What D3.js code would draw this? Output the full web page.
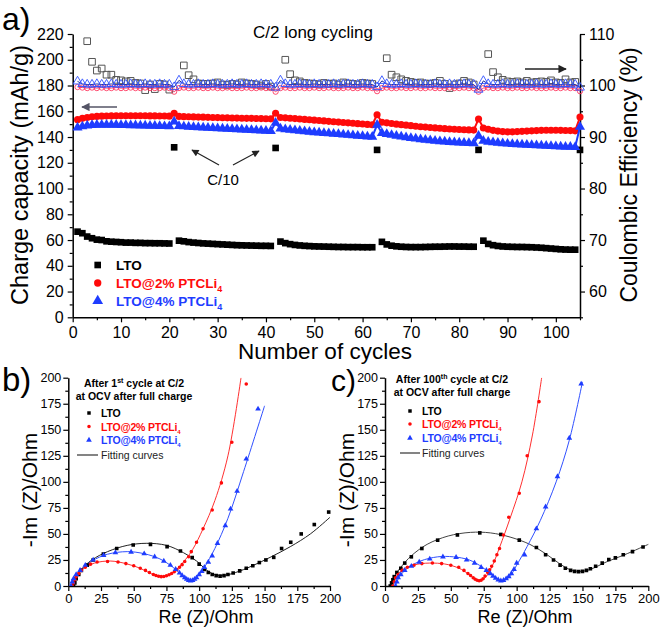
<!DOCTYPE html>
<html><head><meta charset="utf-8">
<script src="https://cdn.jsdelivr.net/npm/d3@7/dist/d3.min.js"></script>
<style>
body{margin:0;background:#fff}
svg{font-family:"Liberation Sans",Arial,sans-serif}
.ax .domain{stroke:#000;stroke-width:1.5}
.ax line{stroke:#000;stroke-width:1.2}
.ax text{fill:#000}
</style>
</head><body><svg id="c" width="660" height="627"></svg>
<script>
// ---------- Panel a data ----------
const cycles = d3.range(1, 106);
const capLTO = [66.5,65.3,62.7,61.4,60.3,60,59,58.7,58.5,58.3,58,58,57.8,57.8,57.6,57.6,57.5,57.5,57.4,57.3,
 132,
 59.5,59,58.4,58,57.7,57.4,57.2,57,56.8,56.6,56.4,56.2,56,55.9,55.8,55.7,55.6,55.5,55.5,55.4,
 131.5,
 58.8,57.6,56.8,56.2,55.8,55.5,55.3,55.1,55,54.9,54.8,54.7,54.6,54.6,54.5,54.5,54.5,54.4,54.4,54.4,
 130,
 58.6,56.6,55.6,55.1,54.8,54.6,54.5,54.5,54.5,54.6,54.7,54.8,54.8,54.9,55,55,54.9,54.9,54.8,54.8,
 130,
 59.5,57,56,55.4,55,54.8,54.7,54.6,54.6,54.5,54.4,54.2,54,53.7,53.4,53.1,52.8,52.6,52.5,52.5,
 130];
const cap2 = [153.5,154.5,155.2,155.7,156,156.2,156.3,156.4,156.5,156.5,156.5,156.5,156.5,156.5,156.5,156.4,156.4,156.3,156.3,156.2,
 158.5,
 156,155.8,155.7,155.6,155.5,155.4,155.3,155.2,155.1,155,154.9,154.8,154.7,154.6,154.5,154.5,154.4,154.3,154.2,154.1,
 158.5,
 155.2,154.9,154.6,154.3,154,153.7,153.4,153.1,152.8,152.5,152.2,151.9,151.6,151.3,151,150.7,150.4,150.1,149.8,149.5,
 157.3,
 151.5,151,150.5,150,149.6,149.2,148.8,148.4,148,147.7,147.4,147.1,146.8,146.5,146.2,146,145.8,145.6,145.5,145.4,
 154,
 147,146,145.2,144.6,144.2,144,144,144.2,144.4,144.6,144.8,145,145.2,145.3,145.3,145.3,145.2,145.1,145,144.8,
 155.5];
const cap4 = [147.4,148.2,148.8,149.2,149.4,149.5,149.5,149.5,149.4,149.3,149.2,149.1,149,148.9,148.8,148.7,148.6,148.5,148.4,148.3,
 152,
 148.5,148.2,148,147.8,147.6,147.4,147.2,147,146.8,146.6,146.4,146.2,146,145.8,145.6,145.4,145.2,145,144.8,144.6,
 151,
 146.5,146,145.6,145.2,144.8,144.4,144,143.7,143.4,143.1,142.8,142.5,142.2,141.9,141.6,141.3,141,140.7,140.4,140.1,
 149.5,
 143,142.3,141.6,141,140.4,139.8,139.2,138.7,138.2,137.8,137.4,137,136.7,136.4,136.1,135.9,135.7,135.5,135.3,135.1,
 141,
 137,136.3,135.8,135.4,135.1,134.8,134.5,134.3,134.1,133.9,133.7,133.5,133.3,133.1,132.9,132.7,132.5,132.4,132.3,132.2,
 148];
const ceLTO = [null,null,108.6,104.6,102.9,103.3,102.1,102.1,101.1,101,100.8,100.9,100.5,100.4,99.1,100.2,99.3,100.3,100.2,99.2,
 null,
 null,103.9,102,101.2,100.4,100.3,100.3,100.4,100.6,100.2,100.1,100.3,100.2,100.6,100.4,100.3,100.2,100,100.3,99.8,
 null,
 null,105,102.2,101,100.8,100.5,100.4,100.3,100.2,100.5,100.3,100.4,100.2,100.6,100.4,100.3,100.2,100.5,100.4,100.3,
 null,
 null,105.3,102.1,101.6,101.2,100.9,100.7,100.5,100.6,100.4,100.3,100.5,100.9,100.3,99.5,100.2,100.4,100.9,100.6,100.2,
 null,
 null,106.1,102.6,101.6,101.1,100.8,100.7,100.8,100.6,100.9,100.6,100.7,100.8,100.7,101,100.6,100.5,101.2,100.6,100.7,
 null];
const ce2 = [99.7,99.6,99.5,99.6,99.5,99.6,99.5,99.5,99.6,99.5,99.5,99.6,99.5,99.5,99.6,99.5,99.5,99.5,99.6,99.5,
 98.8,
 99.5,99.6,99.5,99.5,99.6,99.5,99.5,99.6,99.5,99.5,99.6,99.5,99.5,99.5,99.6,99.5,99.5,99.6,99.5,99.5,
 98.8,
 99.5,99.6,99.5,99.5,99.6,99.5,99.5,99.6,99.5,99.5,99.6,99.5,99.5,99.5,99.6,99.5,99.5,99.6,99.5,99.5,
 98.9,
 99.5,99.6,99.5,99.5,99.6,99.5,99.5,99.6,99.5,99.5,99.6,99.5,99.5,99.5,99.6,99.5,99.5,99.6,99.5,99.5,
 98.8,
 99.5,99.6,99.5,99.5,99.6,99.5,99.5,99.6,99.5,99.5,99.6,99.5,99.5,99.5,99.6,99.5,99.5,99.6,99.5,99.5,
 98.9];
const ce4 = [100.8,100.3,100.2,100.2,100.3,100.2,100.2,100.3,100.2,100.2,100.2,100.3,100.2,100.2,100.3,100.2,100.2,100.3,100.2,100.2,
 99.7,
 101.0,100.3,100.2,100.2,100.3,100.2,100.2,100.3,100.2,100.2,100.2,100.3,100.2,100.2,100.3,100.2,100.2,100.3,100.2,100.2,
 99.6,
 101.0,100.3,100.2,100.2,100.3,100.2,100.2,100.3,100.2,100.2,100.2,100.3,100.2,100.2,100.3,100.2,100.2,100.3,100.2,100.2,
 99.7,
 100.9,100.3,100.2,100.2,100.3,100.2,100.2,100.3,100.2,100.2,100.2,100.3,100.2,100.2,100.3,100.2,100.2,100.3,100.2,100.2,
 99.2,
 100.9,100.3,100.2,100.2,100.3,100.2,100.2,100.3,100.2,100.2,100.2,100.3,100.2,100.2,100.3,100.2,100.2,100.3,100.2,100.2,
 99.6];
const xTicksA = [0,10,20,30,40,50,60,70,80,90,100];
const yTicksL = [0,20,40,60,80,100,120,140,160,180,200,220];
const yTicksR = [60,70,80,90,100,110];

// ---------- Panel b data (after 1st cycle) ----------
const bLTO = [[4,0],[5,3],[6,7],[8,11],[10,15],[14.5,20],[19,25],[26.8,30.7],[37,36],[49.6,39.3],[62.8,40],[75.5,37.8],[85.7,33.6],[94.7,27.2],[100,21],[104,16],[107,13],[110,11],[113,10],[116,9.5],[119,10],[122,11],[126,12.5],[131,14.5],[136,17],[141,19.5],[146,22.5],[151,25],[157,27.5],[163,36],[170,42],[178,50],[188,59],[199,71]];
const bLTOfit = [[4,0],[6,8],[10,16],[18,25],[30,33],[45,39],[60,41],[75,39],[88,32],[98,24],[106,15],[112,11],[118,10],[128,13],[140,19],[155,28],[170,38],[185,50],[200,66]];
const b2 = [[3,0],[4,3],[5,6],[6,9],[8,12],[10,15],[13,18],[17,21],[22,23],[30,23.6],[38,23],[44,21.5],[50,19.5],[55,17],[59,15],[62,13],[65,11],[67,10],[69,9.3],[71,9],[73,9.2],[75,9.8],[77,10.8],[79,12],[81,13.7],[83,15.7],[85,18],[87,20.5],[89,23.5],[92,28],[94,33],[98,42],[103,55],[110,73],[117,99],[125,138],[136,194]];
const b2fit = [[3,0],[6,9],[12,17],[20,22],[32,24],[44,21.5],[55,17],[63,12],[70,9],[76,10],[82,15],[88,23],[95,35],[103,55],[112,82],[122,125],[132,200]];
const b4 = [[2,0],[3,4],[4,7],[6,11],[9,15],[13,20],[19,25],[27,29.5],[36,32],[48,32.5],[58,31],[66,28],[73,24],[78,20],[82,16],[85,12.5],[87,10],[89,8],[90.5,6.5],[92,5.5],[93.5,5],[95,5.3],[96.5,6.5],[98,8],[100,11],[102,14],[104,18],[107,23],[110,29],[114,41],[120,58],[124,74],[129,91],[136,122],[145,170]];
const b4fit = [[2,0],[5,9],[10,16],[18,24],[30,30.5],[45,33],[58,31],[70,26],[80,18],[87,10],[93,5],[98,8],[104,18],[112,36],[122,65],[134,110],[150,173]];

// ---------- Panel c data (after 100th cycle) ----------
const cLTO = [[4,0],[5,3],[6,6],[7,9],[9,13],[12,17],[15,22],[20,28],[28,36],[40,44],[55,49],[72,51],[88,49.5],[102,44],[115,37],[122,30],[128,25],[133,20],[137,17],[141,15],[144,14],[147,13.8],[150,14],[153,15],[156,16.5],[160,19],[165,22],[170,25.5],[175,27],[181,30],[188,33],[196,37.5]];
const cLTOfit = [[4,0],[7,9],[12,18],[20,29],[32,40],[48,48],[65,51.5],[80,51],[95,47],[110,40],[122,31],[132,22],[140,16],[147,14],[155,15.5],[168,23],[182,30],[200,40]];
const c2 = [[6,0],[7,4],[8,8],[10,11],[13,15],[17,18],[22,20],[28,21.5],[36,22],[43,21.5],[50,20],[56,18],[60,15],[63,12],[65,10],[67,8],[68.5,6.5],[70,5.5],[71.5,5],[73,5.5],[74.5,7],[76,9.5],[78,13],[79.5,15.5],[81,19],[83,24],[85,30],[87,36],[90,49],[94,66],[102,89],[108,125],[117,177]];
const c2fit = [[6,0],[9,10],[15,17],[25,21],[37,22],[48,20.5],[58,16],[65,10],[71,5],[76,8],[81,18],[87,37],[95,65],[104,100],[112,145],[119,200]];
const c4 = [[8,0],[9,4],[10,8],[12,11],[15,15],[20,19],[26,23],[34,26],[44,28],[54,27.5],[62,25],[68,22],[73,18],[77,15],[80,12],[82,9.5],[84,7.5],[86,6],[88,5],[90,5.5],[92,7],[94,9],[96,12],[98,16],[100,22],[106,30],[115,55],[122,76],[131,105],[140,142],[149,194]];
const c4fit = [[8,0],[11,9],[17,17],[27,24],[40,28],[52,28],[64,25],[74,18],[82,10],[88,5],[94,8],[100,20],[108,38],[118,63],[130,100],[140,140],[150,196]];
const eisTicks = [0,25,50,75,100,125,150,175,200];

// ---------- drawing ----------
const RED = "#ff0a0a", BLUE = "#1e3cff";
const svg = d3.select("#c");

function styleAxis(g, fs){ g.attr("class","ax"); g.selectAll("text").attr("font-size", fs); }

// Panel a
const xA = d3.scaleLinear().domain([0,105]).range([72.7,580]);
const yL = d3.scaleLinear().domain([0,220]).range([317.3,34]);
const yR = d3.scaleLinear().domain([55,110]).range([317.3,34]);

const gA = svg.append("g");
gA.append("g").attr("transform","translate(0,317.3)")
  .call(d3.axisBottom(xA).tickValues(d3.range(5,106,10)).tickSize(3).tickFormat("").tickSizeOuter(0))
  .call(g=>{styleAxis(g,16); g.select(".domain").remove();});
gA.append("g").attr("transform","translate(0,317.3)")
  .call(d3.axisBottom(xA).tickValues(xTicksA).tickSize(5).tickPadding(4).tickSizeOuter(0))
  .call(g=>styleAxis(g,16));
gA.append("g").attr("transform","translate(72.7,0)")
  .call(d3.axisLeft(yL).tickValues(d3.range(10,220,20)).tickSize(3).tickFormat("").tickSizeOuter(0))
  .call(g=>{styleAxis(g,16); g.select(".domain").remove();});
gA.append("g").attr("transform","translate(72.7,0)")
  .call(d3.axisLeft(yL).tickValues(yTicksL).tickSize(5).tickPadding(4).tickSizeOuter(0))
  .call(g=>styleAxis(g,16));
gA.append("g").attr("transform","translate(580,0)")
  .call(d3.axisRight(yR).tickValues(d3.range(55,110,10)).tickSize(3).tickFormat("").tickSizeOuter(0))
  .call(g=>{styleAxis(g,16); g.select(".domain").remove();});
gA.append("g").attr("transform","translate(580,0)")
  .call(d3.axisRight(yR).tickValues(yTicksR).tickSize(5).tickPadding(4).tickSizeOuter(0))
  .call(g=>styleAxis(g,16));

const sq = d3.symbol().type(d3.symbolSquare);
const ci = d3.symbol().type(d3.symbolCircle);
const tr = d3.symbol().type(d3.symbolTriangle);

function series(g, xs, ys, vals, sym, size, fill, stroke, sw, lineColor, lw){
  const pts = cycles.map((c,i)=>({x:c, y:vals[i]})).filter(d=>d.y!=null);
  if(lineColor){
    g.append("path").datum(pts)
     .attr("d", d3.line().x(d=>xs(d.x)).y(d=>ys(d.y)))
     .attr("fill","none").attr("stroke",lineColor).attr("stroke-width",lw);
  }
  g.selectAll(null).data(pts).join("path")
   .attr("d", sym.size(size)())
   .attr("transform", d=>`translate(${xs(d.x)},${ys(d.y)})`)
   .attr("fill", fill).attr("stroke", stroke).attr("stroke-width", sw);
}
// coulombic efficiency (right axis)
series(gA, xA, yR, ceLTO, sq, 44, "none", "#555", 1, null);
series(gA, xA, yR, ce2, ci, 22, "none", "#ff3860", 0.9, "#ff3860", 1);
series(gA, xA, yR, ce4, tr, 34, "none", "#3050ff", 0.9, "#2030a0", 1);
// capacity (left axis)
series(gA, xA, yL, capLTO, sq, 44, "#000", "none", 0, null);
series(gA, xA, yL, cap2, ci, 40, RED, "none", 0, RED, 2);
series(gA, xA, yL, cap4, tr, 44, BLUE, "none", 0, BLUE, 2);

// texts panel a
svg.append("text").attr("x",2).attr("y",30).attr("font-size",32).text("a)");
svg.append("text").attr("x",313).attr("y",38).attr("text-anchor","middle").attr("font-size",17).text("C/2 long cycling");
svg.append("text").attr("transform","translate(28,175) rotate(-90)").attr("text-anchor","middle").attr("font-size",23.5).text("Charge capacity (mAh/g)");
svg.append("text").attr("transform","translate(637,175) rotate(-90)").attr("text-anchor","middle").attr("font-size",23).text("Coulombic Efficiency (%)");
svg.append("text").attr("x",325).attr("y",359).attr("text-anchor","middle").attr("font-size",22.5).text("Number of cycles");
svg.append("text").attr("x",223).attr("y",185).attr("text-anchor","middle").attr("font-size",15).text("C/10");

const defs = svg.append("defs");
function marker(id,color){
  defs.append("marker").attr("id",id).attr("viewBox","0 0 10 10").attr("refX",9).attr("refY",5)
   .attr("markerWidth",7).attr("markerHeight",6).attr("orient","auto-start-reverse")
   .append("path").attr("d","M0,0L10,5L0,10z").attr("fill",color);
}
marker("ah1","#222");
marker("ah2","#556");
function arrow(x1,y1,x2,y2,id,color,w){
  svg.append("line").attr("x1",x1).attr("y1",y1).attr("x2",x2).attr("y2",y2)
   .attr("stroke",color).attr("stroke-width",w).attr("marker-end",`url(#${id})`);
}
arrow(219,165,192,150,"ah1","#222",1.2);
arrow(233,165,259,151,"ah1","#222",1.2);
arrow(117,107,82,107,"ah2","#556",1.4);
arrow(525,69,566,69,"ah1","#222",1.4);

// legend a
const legA = [
  {sym:sq, size:44, c:"#000", t:"LTO", sub:""},
  {sym:ci, size:42, c:RED, t:"LTO@2% PTCLi", sub:"4"},
  {sym:tr, size:50, c:BLUE, t:"LTO@4% PTCLi", sub:"4"}];
legA.forEach((d,i)=>{
  const y = 265 + i*18;
  svg.append("path").attr("d", d.sym.size(d.size)()).attr("transform",`translate(97.7,${y})`).attr("fill",d.c);
  const t = svg.append("text").attr("x",116).attr("y",y+5).attr("font-size",13.5).attr("font-weight","bold").attr("fill",d.c).text(d.t);
  if(d.sub) t.append("tspan").attr("dy",4).attr("font-size",9).text(d.sub);
});

// EIS panels
function eis(x0, x1, label, titleSup, titleNum, cx, legMarkX, legTextX, legLineX0, legLineX1, legYs, titleYs, labelX, panelX, xLabelX, sets){
  const xs = d3.scaleLinear().domain([0,200]).range([x0,x1]);
  const ys = d3.scaleLinear().domain([0,200]).range([586,377.7]);
  const g = svg.append("g");
  g.append("g").attr("transform","translate(0,586)")
   .call(d3.axisBottom(xs).tickValues(d3.range(12.5,200,25)).tickSize(3).tickFormat("").tickSizeOuter(0))
   .call(a=>{styleAxis(a,13); a.select(".domain").remove();});
  g.append("g").attr("transform","translate(0,586)")
   .call(d3.axisBottom(xs).tickValues(eisTicks).tickSize(5).tickPadding(3).tickSizeOuter(0))
   .call(a=>styleAxis(a,13));
  g.append("g").attr("transform",`translate(${x0},0)`)
   .call(d3.axisLeft(ys).tickValues(d3.range(12.5,200,25)).tickSize(3).tickFormat("").tickSizeOuter(0))
   .call(a=>{styleAxis(a,13); a.select(".domain").remove();});
  g.append("g").attr("transform",`translate(${x0},0)`)
   .call(d3.axisLeft(ys).tickValues(eisTicks).tickSize(5).tickPadding(2).tickSizeOuter(0))
   .call(a=>styleAxis(a,12.5));

  const clipId = "clip"+label;
  defs.append("clipPath").attr("id",clipId).append("rect").attr("x",x0).attr("y",377.7).attr("width",x1-x0+2).attr("height",586-377.7);
  const pg = g.append("g").attr("clip-path",`url(#${clipId})`);
  const line = d3.line().x(d=>xs(d[0])).y(d=>ys(d[1])).curve(d3.curveCatmullRom.alpha(0.5));
  sets.forEach(s=>{
    pg.append("path").datum(s.fit).attr("d",line).attr("fill","none").attr("stroke",s.lc).attr("stroke-width",1);
  });
  sets.forEach(s=>{
    pg.selectAll(null).data(s.pts).join("path")
      .attr("d", s.sym.size(s.size)())
      .attr("transform", d=>`translate(${xs(d[0])},${ys(d[1])})`)
      .attr("fill", s.c);
  });

  svg.append("text").attr("x",panelX).attr("y",391).attr("font-size",label==="c"?30:33).text(label+")");
  svg.append("text").attr("transform",`translate(${labelX},490) rotate(-90)`).attr("text-anchor","middle").attr("font-size",21).text("-Im (Z)/Ohm");
  svg.append("text").attr("x",xLabelX).attr("y",623).attr("text-anchor","middle").attr("font-size",18).text("Re (Z)/Ohm");

  const t1 = svg.append("text").attr("x",cx).attr("y",titleYs[0]).attr("text-anchor","middle").attr("font-size",10.5).attr("font-weight","bold");
  t1.append("tspan").text("After "+titleNum);
  t1.append("tspan").attr("dy",-4).attr("font-size",7).text(titleSup);
  t1.append("tspan").attr("dy",4).text(" cycle at C/2");
  svg.append("text").attr("x",cx).attr("y",titleYs[1]).attr("text-anchor","middle").attr("font-size",10.5).attr("font-weight","bold").text("at OCV after full charge");

  const items = [
    {sym:sq,size:12,c:"#000",t:"LTO",sub:""},
    {sym:ci,size:10,c:RED,t:"LTO@2% PTCLi",sub:"4"},
    {sym:tr,size:14,c:BLUE,t:"LTO@4% PTCLi",sub:"4"}];
  items.forEach((d,i)=>{
    const y = legYs[i];
    svg.append("path").attr("d", d.sym.size(d.size)()).attr("transform",`translate(${legMarkX},${y})`).attr("fill",d.c);
    const t = svg.append("text").attr("x",legTextX).attr("y",y+4).attr("font-size",10.5).attr("font-weight","bold").attr("fill",d.c).attr("letter-spacing",-0.2).text(d.t);
    if(d.sub) t.append("tspan").attr("dy",3).attr("font-size",6).text(d.sub);
  });
  svg.append("line").attr("x1",legLineX0).attr("x2",legLineX1).attr("y1",legYs[3]).attr("y2",legYs[3]).attr("stroke","#333").attr("stroke-width",1.2);
  svg.append("text").attr("x",legTextX).attr("y",legYs[3]+4).attr("font-size",10.5).attr("fill","#222").text("Fitting curves");
}

eis(68.3, 330, "b", "st", "1", 134, 89, 101, 77, 98, [413,426.5,440,455], [387,400], 37, 2, 206, [
  {pts:bLTO, fit:bLTOfit, sym:sq, size:13, c:"#000", lc:"#222"},
  {pts:b2, fit:b2fit, sym:ci, size:10, c:RED, lc:"#ff3030"},
  {pts:b4, fit:b4fit, sym:tr, size:14, c:BLUE, lc:"#3050ff"}]);
eis(385, 648.3, "c", "th", "100", 452, 410, 422, 400, 420, [411,424,438,453], [383,396], 354, 331, 525, [
  {pts:cLTO, fit:cLTOfit, sym:sq, size:13, c:"#000", lc:"#444"},
  {pts:c2, fit:c2fit, sym:ci, size:10, c:RED, lc:"#ff3030"},
  {pts:c4, fit:c4fit, sym:tr, size:14, c:BLUE, lc:"#3050ff"}]);
</script></body></html>
